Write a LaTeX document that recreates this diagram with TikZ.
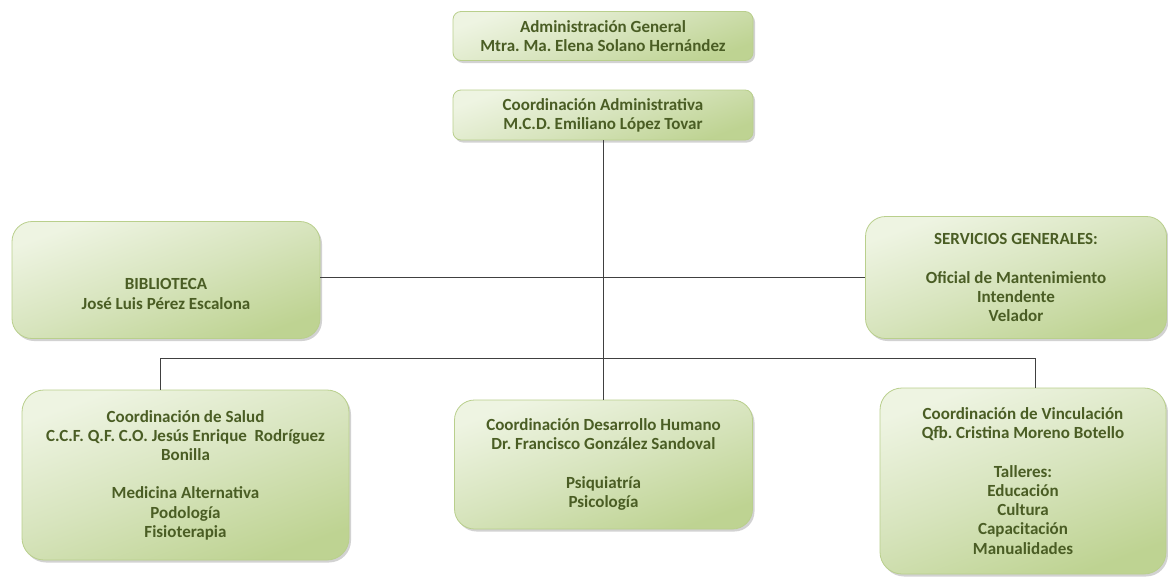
\documentclass[tikz,border=0pt]{standalone}
\usepackage{fontspec}
\setmainfont{Carlito}
\frenchspacing
\usetikzlibrary{shadows}
\definecolor{txtc}{HTML}{4A5D24}
\definecolor{lite}{HTML}{EEF4E2}
\definecolor{midg}{HTML}{D7E4BD}
\definecolor{dark}{HTML}{BED392}
\definecolor{edge}{HTML}{B9CF8C}
\definecolor{linec}{HTML}{404040}
\tikzset{
  box/.style={draw=edge, line width=0.8pt, rounded corners=#1,
    top color=lite, bottom color=dark, middle color=midg,
    shading angle=20,
    drop shadow={opacity=0.35, shadow xshift=2pt, shadow yshift=-2.5pt},
    align=center, font=\bfseries\fontsize{17}{19.2}\selectfont, text=txtc,
    inner sep=0pt},
  box/.default=8pt,
  txt/.style={align=center, font=\bfseries\fontsize{17}{19.2}\selectfont, text=txtc, inner sep=0pt},
  conn/.style={draw=linec, line width=1pt}
}
\begin{document}
\begin{tikzpicture}[x=1pt,y=1pt]
\useasboundingbox (0,0) rectangle (1168,-584);
\fill[white] (0,0) rectangle (1168,-584);
% boxes
\node[box, minimum width=300, minimum height=49] (ag) at (603,-36)
  {Administración General\\Mtra. Ma. Elena Solano Hernández};
\node[box, minimum width=300, minimum height=50] (ca) at (603,-115)
  {Coordinación Administrativa\\M.C.D. Emiliano López Tovar};
\node[box=20pt, minimum width=308, minimum height=117] (bib) at (166,-280) {};
\node[txt] (bibt) at (166,-294) {BIBLIOTECA\\José Luis Pérez Escalona};
\node[box=20pt, minimum width=301, minimum height=122] (sg) at (1016,-277.5)
  {SERVICIOS GENERALES:\\[19.2pt]Oficial de Mantenimiento\\Intendente\\Velador};
\node[box=22pt, minimum width=327, minimum height=170] (sal) at (185.5,-475)
  {Coordinación de Salud\\C.C.F. Q.F. C.O. Jesús Enrique\ \ Rodríguez\\Bonilla\\[19.2pt]Medicina Alternativa\\Podología\\Fisioterapia};
\node[box=20pt, minimum width=298, minimum height=129] (dh) at (603.5,-464.5)
  {Coordinación Desarrollo Humano\\Dr. Francisco González Sandoval\\[19.2pt]Psiquiatría\\Psicología};
\node[box=22pt, minimum width=286, minimum height=186] (vin) at (1023,-481)
  {Coordinación de Vinculación\\Qfb. Cristina Moreno Botello\\[19.2pt]Talleres:\\Educación\\Cultura\\Capacitación\\Manualidades};
% connectors
\coordinate (busL) at (160,-358);
\coordinate (busR) at (1035,-358);
\draw[conn] (ca.south) -- (ca.south |- dh.north);
\draw[conn] (bib.east |- sg.west) -- (sg.west);
\draw[conn] (busL) -- (busR);
\draw[conn] (busL) -- (busL |- sal.north);
\draw[conn] (busR) -- (busR |- vin.north);
\end{tikzpicture}
\end{document}
